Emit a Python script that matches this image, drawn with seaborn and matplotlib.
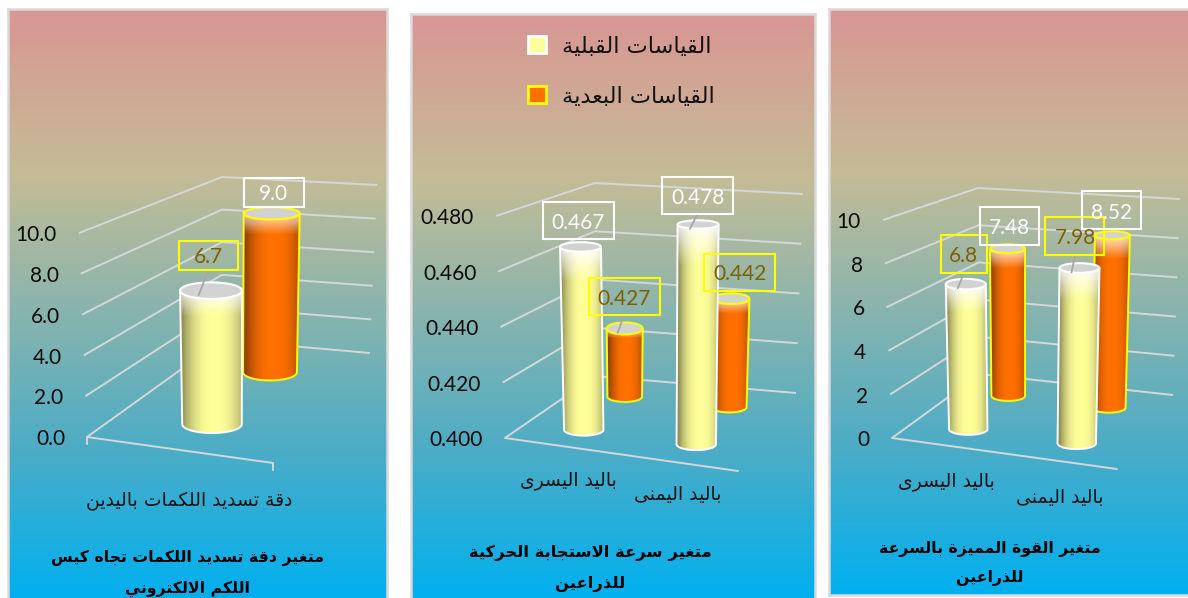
import numpy as np
import pandas as pd
import seaborn as sns
import matplotlib
matplotlib.use("Agg")
import matplotlib.pyplot as plt
from matplotlib.colors import LinearSegmentedColormap
from matplotlib.patches import Ellipse, PathPatch, Patch, Rectangle
from matplotlib.path import Path

# ---------- data ----------
series_names = ["القياسات القبلية", "القياسات البعدية"]

p1_categories = ["دقة تسديد اللكمات باليدين"]
p1_pre = [6.7]
p1_post = [9.0]
p1_ticks = [0.0, 2.0, 4.0, 6.0, 8.0, 10.0]
p1_ticklabels = ["0.0", "2.0", "4.0", "6.0", "8.0", "10.0"]
p1_labels = ["6.7", "9.0"]
p1_title = ["متغير دقة تسديد اللكمات تجاه كيس", "اللكم الالكتروني"]

p2_categories = ["باليد اليسرى", "باليد اليمنى"]
p2_pre = [0.467, 0.478]
p2_post = [0.427, 0.442]
p2_ticks = [0.400, 0.420, 0.440, 0.460, 0.480]
p2_ticklabels = ["0.400", "0.420", "0.440", "0.460", "0.480"]
p2_labels = ["0.467", "0.427", "0.478", "0.442"]
p2_title = ["متغير سرعة الاستجابة الحركية", "للذراعين"]

p3_categories = ["باليد اليسرى", "باليد اليمنى"]
p3_pre = [6.8, 7.98]
p3_post = [7.48, 8.52]
p3_ticks = [0, 2, 4, 6, 8, 10]
p3_ticklabels = ["0", "2", "4", "6", "8", "10"]
p3_labels = ["6.8", "7.48", "7.98", "8.52"]
p3_title = ["متغير القوة المميزة بالسرعة", "للذراعين"]

# ---------- Arabic shaping (matplotlib has no text shaping of its own) ----------
FOUR = {'ب': 0xFE8F, 'ت': 0xFE95, 'ج': 0xFE9D, 'ح': 0xFEA1, 'س': 0xFEB1, 'ع': 0xFEC9,
        'غ': 0xFECD, 'ف': 0xFED1, 'ق': 0xFED5, 'ك': 0xFED9, 'ل': 0xFEDD, 'م': 0xFEE1,
        'ن': 0xFEE5, 'ه': 0xFEE9, 'ي': 0xFEF1}
TWO = {'ا': 0xFE8D, 'د': 0xFEA9, 'ذ': 0xFEAB, 'ر': 0xFEAD, 'ز': 0xFEAF, 'ة': 0xFE93,
       'و': 0xFEED, 'ى': 0xFEEF}


def shape(text):
    out = []
    for word in text.split(" "):
        glyphs, prev_joins, i = [], False, 0
        while i < len(word):
            c = word[i]
            nxt = word[i + 1] if i + 1 < len(word) else ""
            if c == 'ل' and nxt == 'ا':
                glyphs.append(chr(0xFEFC if prev_joins else 0xFEFB))
                prev_joins, i = False, i + 2
                continue
            if c in FOUR:
                joins_next = nxt in FOUR or nxt in TWO
                form = (3 if joins_next else 1) if prev_joins else (2 if joins_next else 0)
                glyphs.append(chr(FOUR[c] + form))
                prev_joins = joins_next
            else:
                glyphs.append(chr(TWO[c] + (1 if prev_joins else 0)))
                prev_joins = False
            i += 1
        out.append("".join(reversed(glyphs)))
    return " ".join(reversed(out))


# ---------- look ----------
sns.set_theme(style="white")
plt.rcParams["font.family"] = ["DejaVu Sans"]
W, H = 1188, 598
fig = plt.figure(figsize=(W / 100, H / 100), dpi=100)
fig.patch.set_facecolor("white")

bg = LinearSegmentedColormap.from_list(
    "bg", [(0, "#D99694"), (0.28, "#C4BC96"), (0.75, "#4BACC6"), (1, "#00B0F0")])
YELLOW, ORANGE = np.array([255, 255, 153]) / 255, np.array([255, 112, 0]) / 255
GRID = "#D4D8D8"
NUM_FONT = "Lato"
NUM_SIZE = 15
LABEL_BROWN = "#7F6000"
NUM_DY = 2.2


def rgba_cylinder(base, nrow, fade_frac, top_mix):
    t = np.linspace(0, 1, 64)
    s = 1 - 0.5 * np.abs((t - 0.55) / 0.55) ** 2.4
    s = np.clip(s, 0, 1)
    img = base[None, None, :] * s[None, :, None] * np.ones((nrow, 64, 3))
    fade = np.clip(1 - np.arange(nrow) / (fade_frac * nrow), 0, 1)[:, None, None]
    return img * (1 - fade) + fade * (top_mix[None, None, :] * (0.78 + 0.22 * s[None, :, None]))


def make_panel(box, corners, categories, pre, post, ticks, ticklabels, labels, title, cfg):
    x0, y0, x1, y1 = box
    ax = fig.add_axes([x0 / W, 1 - y1 / H, (x1 - x0) / W, (y1 - y0) / H])

    # seaborn resolves category / series positions; a probe axes holds its bars
    df = pd.DataFrame({
        "cat": list(range(len(categories))) * 2,
        "series": [series_names[0]] * len(pre) + [series_names[1]] * len(post),
        "value": list(pre) + list(post)})
    probe = fig.add_axes([0, 0, 0.1, 0.1])
    sns.barplot(data=df, x="cat", y="value", hue="series",
                palette=[tuple(YELLOW), tuple(ORANGE)], legend=False, ax=probe)
    bars = []
    for p in probe.patches:
        if p.get_width() == 0:
            continue
        cx = p.get_x() + p.get_width() / 2
        idx = int(round(cx))
        bars.append((idx, 0 if cx < idx else 1, p.get_height()))
    fig.delaxes(probe)

    ax.set_autoscale_on(False)
    ax.set_xlim(x0, x1)
    ax.set_ylim(y1, y0)
    ax.imshow(np.linspace(0, 1, 256)[:, None], cmap=bg, aspect="auto",
              extent=(x0, x1, y1, y0), zorder=0)
    ax.set_xticks([])
    ax.set_yticks([])
    ax.grid(False)
    for s in ax.spines.values():
        s.set_color("#D9D9D9")
        s.set_linewidth(1.8)

    LF0, FR0, RB0, BC0, LF1, FR1, RB1, BC1 = [np.array(c, float) for c in corners]
    vmin, vmax = ticks[0], ticks[-1]

    def proj(u, d, v):
        f = (v - vmin) / (vmax - vmin)
        low = (LF0 * (1 - u) + FR0 * u) * (1 - d) + (BC0 * (1 - u) + RB0 * u) * d
        high = (LF1 * (1 - u) + FR1 * u) * (1 - d) + (BC1 * (1 - u) + RB1 * u) * d
        return low * (1 - f) + high * f

    # gridlines, walls and floor
    for v, lab in zip(ticks, ticklabels):
        pts = np.array([proj(0, 0, v), proj(0, 1, v), proj(1, 1, v)])
        ax.plot(pts[:, 0], pts[:, 1], color=GRID, lw=1.4, zorder=1, solid_capstyle="butt")
        ax.text(pts[0, 0] - 22, pts[0, 1] + NUM_DY, lab, ha="right", va="center",
                family=NUM_FONT, fontsize=NUM_SIZE, color="#0A0A0A", zorder=2)
    a, b = proj(0, 0, vmin), proj(1, 0, vmin)
    ax.plot([a[0], b[0]], [a[1], b[1]], color=GRID, lw=1.4, zorder=1)
    if cfg["ticks"]:
        for q in (a, b):
            ax.plot([q[0], q[0]], [q[1], q[1] + 7], color=GRID, lw=1.4, zorder=1)

    # cylinders, rear row first
    n = len(categories)
    tops = {}
    bars.sort(key=lambda r: (-r[1], r[0]))
    dx = cfg["bar_dx"]
    for z, (idx, ser, val) in enumerate(bars):
        u, d = (idx + 0.5) / n, 0.25 + 0.5 * ser
        bx, by = proj(u, d, vmin)
        tx, ty = proj(u, d, val)
        bx, tx = bx + dx, tx + dx
        tops[(idx, ser)] = (tx, ty)
        at = cfg["half_width"][ser]
        ab = at * 0.96
        f = (val - vmin) / (vmax - vmin)
        bt, bb = at * (0.40 - 0.2 * f), ab * 0.30
        edge = "white" if ser == 0 else "#FFFF00"
        th = np.linspace(np.pi, 0, 40)
        px = np.r_[tx - at, bx + ab * np.cos(th), tx + at]
        py = np.r_[ty, by + bb * np.sin(th), ty]
        path = Path(np.c_[px, py])
        zo = 3 + z * 0.1
        patch = PathPatch(path, fc="none", ec=edge, lw=1.4, zorder=zo + 0.02)
        ax.add_patch(patch)
        h = by + bb - ty
        nrow = max(int(h), 8)
        img = rgba_cylinder(YELLOW if ser == 0 else ORANGE, nrow,
                            0.18 if ser == 0 else 0.13,
                            np.array([1, 1, 1.0]) if ser == 0 else np.array([1, 0.92, 0.85]))
        left = min(tx - at, bx - ab)
        right = max(tx + at, bx + ab)
        im = ax.imshow(img, extent=(left, right, by + bb, ty), aspect="auto",
                       interpolation="bilinear", zorder=zo)
        im.set_clip_path(patch)
        ax.add_patch(Ellipse((tx, ty), 2 * at, 2 * bt, fc="#D2D2D2", ec=edge,
                             lw=1.5, zorder=zo + 0.04))

    # data labels: frame colour follows the original chart
    for (idx, ser), lab, off, w, frame in zip(cfg["label_bars"], labels, cfg["label_off"],
                                              cfg["label_w"], cfg["label_frame"]):
        tx, ty = tops[(idx, ser)]
        cx, cy = tx + off[0], ty + off[1]
        bh = cfg["label_h"]
        at = cfg["half_width"][ser]
        ex, ey = tx - 0.4 * at, ty + 4.5
        if ey - (cy + bh / 2) >= 13:
            ax.plot([cx, ex], [cy + bh / 2, ey], color="#A6A6A6", lw=1.3, zorder=9)
        edge = "#FFFF00" if frame == "y" else "white"
        ax.add_patch(Rectangle((cx - w / 2, cy - bh / 2), w, bh, fc="none", ec=edge,
                               lw=1.5, zorder=10))
        ax.text(cx, cy + NUM_DY, lab, ha="center", va="center", family=NUM_FONT,
                fontsize=NUM_SIZE, color=LABEL_BROWN if frame == "y" else "white", zorder=11)

    # category labels
    for i, c in enumerate(categories):
        q = proj((i + 0.5) / n, 0, vmin)
        off = cfg["cat_off"][i]
        ax.text(q[0] + off[0], q[1] + off[1], shape(c), ha="center", va="center",
                fontsize=cfg["cat_size"], color="#111111", zorder=12)

    # title below the chart
    for line, (tx, ty) in zip(title, cfg["title_xy"]):
        ax.text(tx, ty, shape(line), ha="center", va="center", fontweight="bold",
                fontsize=cfg["title_size"], color="black", clip_on=True, zorder=12)
    return ax


make_panel((8, 9, 387, 600),
           [(87, 437), (273, 463), (370, 353), (222, 340),
            (79, 233), (275, 246), (377, 185), (222, 177)],
           p1_categories, p1_pre, p1_post, p1_ticks, p1_ticklabels, p1_labels, p1_title,
           dict(ticks=True, half_width=(31, 28), bar_dx=3,
                label_bars=[(0, 0), (0, 1)], label_off=[(-2.5, -35.5), (2, -21)],
                label_w=[59, 60], label_frame="yw", label_h=29,
                cat_off=[(9, 51)], cat_size=13.5, title_size=11.3,
                title_xy=[(187, 558), (187, 589)]))

ax2 = make_panel((411, 14, 815, 600),
           [(505, 438), (738, 471), (796, 393), (595, 376),
            (496, 216), (742, 232), (803, 194), (595, 183)],
           p2_categories, p2_pre, p2_post, p2_ticks, p2_ticklabels, p2_labels, p2_title,
           dict(ticks=False, half_width=(20.5, 18), bar_dx=0,
                label_bars=[(0, 0), (0, 1), (1, 0), (1, 1)],
                label_off=[(-2.5, -26.5), (-0.5, -32), (-0.5, -29), (8.5, -26.5)],
                label_w=[71, 71, 71, 71], label_frame="wywy", label_h=37,
                cat_off=[(5, 34), (-2, 32)], cat_size=13.5, title_size=11.8,
                title_xy=[(590, 553), (590, 584)]))

make_panel((829, 9, 1190, 595),
           [(892, 438), (1117, 469), (1173, 395), (980, 374),
            (883, 220), (1124, 237), (1180, 199), (978, 188)],
           p3_categories, p3_pre, p3_post, p3_ticks, p3_ticklabels, p3_labels, p3_title,
           dict(ticks=False, half_width=(20, 17.5), bar_dx=0,
                label_bars=[(0, 0), (0, 1), (1, 0), (1, 1)],
                label_off=[(-2, -30), (2, -23), (-4.5, -32), (-0.5, -25)],
                label_w=[46, 59, 59, 59], label_frame="ywyw", label_h=38,
                cat_off=[(-2, 36), (-1, 36)], cat_size=13.5, title_size=11.3,
                title_xy=[(990, 549), (990, 578)]))

# legend inside the middle panel
handles = [Patch(fc=tuple(YELLOW), ec="white", lw=2),
           Patch(fc=tuple(ORANGE), ec="#FFFF00", lw=2)]
leg = ax2.legend(handles, [shape(s) for s in series_names], frameon=False,
                 loc="upper left", bbox_to_anchor=(0.29, 0.962), fontsize=16.2,
                 borderpad=0, borderaxespad=0,
                 handlelength=0.78, handleheight=0.78, handletextpad=0.72, labelspacing=1.32,
                 labelcolor="#111111")
leg.set_zorder(20)

fig.savefig("out.png", dpi=100)
